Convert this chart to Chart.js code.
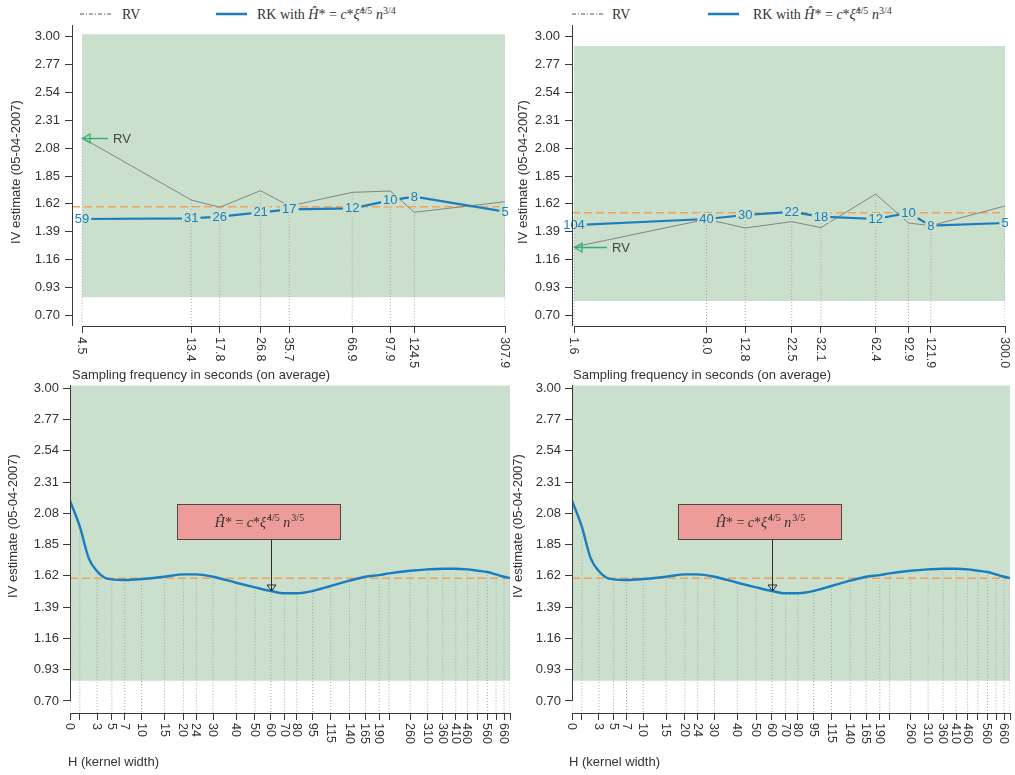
<!DOCTYPE html>
<html>
<head>
<meta charset="utf-8">
<script src="https://cdn.jsdelivr.net/npm/chart.js@4.4.1/dist/chart.umd.min.js"></script>
<style>
  html, body { margin: 0; padding: 0; background: #fff; }
  body { width: 1015px; height: 775px; position: relative; overflow: hidden; }
  canvas { position: absolute; }
  .lg { position: absolute; font-family: "Liberation Serif", "Times New Roman", serif; font-size: 14px;
        line-height: 16px; color: #333; white-space: nowrap; }
  .lg sup { font-size: 10px; vertical-align: 5px; line-height: 0; }
  .lg svg { position: absolute; }
</style>
</head>
<body>

<!-- legends -->
<svg class="lg" style="left:80px;top:9px" width="31" height="10"><line x1="0" y1="5" x2="31" y2="5" stroke="#555" stroke-width="1" stroke-dasharray="4,2,1,2"/></svg>
<div class="lg" style="left:122px;top:7px">RV</div>
<svg class="lg" style="left:216px;top:9px" width="31" height="10"><line x1="0" y1="5" x2="31" y2="5" stroke="#1a7dc0" stroke-width="2.5"/></svg>
<div class="lg" style="left:257px;top:7px">RK with <i>Ĥ</i>* = <i>c</i>*<i>ξ&#770;</i><sup>4/5</sup> <i>n</i><sup>3/4</sup></div>

<svg class="lg" style="left:572px;top:9px" width="31" height="10"><line x1="0" y1="5" x2="31" y2="5" stroke="#555" stroke-width="1" stroke-dasharray="4,2,1,2"/></svg>
<div class="lg" style="left:612px;top:7px">RV</div>
<svg class="lg" style="left:708px;top:9px" width="31" height="10"><line x1="0" y1="5" x2="31" y2="5" stroke="#1a7dc0" stroke-width="2.5"/></svg>
<div class="lg" style="left:753px;top:7px">RK with <i>Ĥ</i>* = <i>c</i>*<i>ξ&#770;</i><sup>4/5</sup> <i>n</i><sup>3/4</sup></div>

<canvas id="pA" width="515" height="385" style="left:0;top:0"></canvas>
<canvas id="pB" width="510" height="385" style="left:505px;top:0"></canvas>
<canvas id="pC" width="515" height="395" style="left:0;top:380px"></canvas>
<canvas id="pD" width="510" height="395" style="left:505px;top:380px"></canvas>

<script>
// ---------------- data ----------------
const Y_TICKS = [0.70, 0.93, 1.16, 1.39, 1.62, 1.85, 2.08, 2.31, 2.54, 2.77, 3.00];

// sampling-frequency grid, first day
const FREQ_A = [4.5, 13.4, 17.8, 26.8, 35.7, 66.9, 97.9, 124.5, 307.9];
const RV_A   = [2.166, 1.652, 1.592, 1.729, 1.602, 1.715, 1.726, 1.550, 1.638];
const RK_A   = [1.495, 1.501, 1.514, 1.550, 1.575, 1.583, 1.649, 1.679, 1.555];
const HSTAR_A = ['59', '31', '26', '21', '17', '12', '10', '8', '5'];
const RK_REF_A = 1.597;
const BAND_A = [0.849, 3.02];

// sampling-frequency grid, second series
const FREQ_B = [1.6, 8.0, 12.8, 22.5, 32.1, 62.4, 92.9, 121.9, 300.0];
const RV_B   = [1.264, 1.493, 1.421, 1.473, 1.424, 1.701, 1.462, 1.440, 1.602];
const RK_B   = [1.445, 1.495, 1.528, 1.553, 1.514, 1.495, 1.545, 1.440, 1.462];
const HSTAR_B = ['104', '40', '30', '22', '18', '12', '10', '8', '5'];
const RK_REF_B = 1.547;
const BAND_B = [0.818, 2.923];

// realised kernel against kernel width H
const H_GRID = [0, 1, 2, 3, 4, 5, 7, 10, 15, 20, 24, 30, 40, 50, 60, 70, 80, 95, 115, 140, 165, 190,
                210, 260, 310, 360, 410, 460, 510, 560, 610, 660, 700];
const RK_H   = [2.173, 1.982, 1.749, 1.655, 1.607, 1.595, 1.590, 1.597, 1.614, 1.631, 1.631, 1.614,
                1.570, 1.536, 1.509, 1.492, 1.492, 1.509, 1.546, 1.585, 1.614, 1.626,
                1.639, 1.658, 1.668, 1.673, 1.673, 1.668, 1.658, 1.649, 1.631, 1.614, 1.605];
const H_TICKS = [0, 1, 3, 5, 7, 10, 15, 20, 24, 30, 40, 50, 60, 70, 80, 95, 115, 140, 165, 190,
                 210, 260, 310, 360, 410, 460, 510, 560, 610, 660, 700];
const H_TICK_LABELS = ['0', '', '3', '5', '7', '10', '15', '20', '24', '30', '40', '50', '60', '70', '80',
                       '95', '115', '140', '165', '190', '', '260', '310', '360', '410', '460', '',
                       '560', '', '660', ''];
const RK_REF_H = 1.602;
const BAND_H = [0.849, 3.02];
const H_STAR = 60;

// ---------------- style ----------------
const SANS = '"Liberation Sans", Arial, Helvetica, sans-serif';
const SERIF = '"Liberation Serif", "Times New Roman", serif';
const GREEN = '#cadfcc';
const BLUE = '#1a7dc0';
const ORANGE = '#f0a35a';
const RVGRAY = '#858585';
const DOT = '#a8a8a8';
const AXIS = '#3a3a3a';
const TEXT = '#333333';
const ARROW = '#33b06c';
const PINK = '#ee9c9a';
const H_SHIFT = 10;   // kernel-width axis is logarithmic in (H + 10)

Chart.defaults.font.family = SANS;

const FORMULA_35 = [
  { t: 'Ĥ', it: true }, { t: '* = ' }, { t: 'c', it: true }, { t: '*' },
  { t: 'ξ\u0302', it: true }, { t: '4/5', sup: true }, { t: ' ' }, { t: 'n', it: true }, { t: '3/5', sup: true }
];

function drawMath(ctx, cx, cy, runs, size) {
  const supSize = Math.round(size * 0.7);
  const fontOf = r => `${r.it ? 'italic ' : ''}${r.sup ? supSize : size}px ${SERIF}`;
  let total = 0;
  const widths = runs.map(r => { ctx.font = fontOf(r); const w = ctx.measureText(r.t).width; total += w; return w; });
  let x = cx - total / 2;
  const base = cy + size * 0.33;
  ctx.textAlign = 'left';
  ctx.textBaseline = 'alphabetic';
  runs.forEach((r, i) => {
    ctx.font = fontOf(r);
    ctx.fillText(r.t, x + (r.sup ? 1 : 0), r.sup ? base - size * 0.4 : base);
    x += widths[i] + (r.sup ? 1 : 0);
  });
}

const align = (v) => Math.round(v - 0.5) + 0.5;

function makeDecor(p) {
  return {
    id: 'panelDecor',
    afterDatasetsDraw(chart) {
      const { ctx, scales: { x: xs, y: ys } } = chart;
      ctx.save();
      // numbered markers on the RK line (line is knocked out behind each number)
      if (p.markers) {
        const m = p.markers;
        ctx.font = `13px ${SANS}`;
        const bx0 = xs.getPixelForValue(m.band.x0), bx1 = xs.getPixelForValue(m.band.x1);
        const byT = ys.getPixelForValue(m.band.hi), byB = ys.getPixelForValue(m.band.lo);
        ctx.save();
        ctx.beginPath(); ctx.rect(bx0, byT, bx1 - bx0, byB - byT); ctx.clip();
        ctx.fillStyle = GREEN;
        m.labels.forEach((t, i) => {
          const px = xs.getPixelForValue(m.x[i]), py = ys.getPixelForValue(m.y[i]);
          const w = ctx.measureText(t).width;
          ctx.fillRect(px - w / 2 - 2, py - 6, w + 4, 12);
        });
        ctx.restore();
        ctx.fillStyle = BLUE; ctx.textAlign = 'center'; ctx.textBaseline = 'middle';
        m.labels.forEach((t, i) => ctx.fillText(t, xs.getPixelForValue(m.x[i]), ys.getPixelForValue(m.y[i]) + 0.5));
      }
      // "RV" pointer at the highest-frequency realised variance
      if (p.rvArrow) {
        const r = p.rvArrow;
        const px = xs.getPixelForValue(r.x), py = Math.round(ys.getPixelForValue(r.y)) + 0.5;
        ctx.strokeStyle = ARROW; ctx.lineWidth = 1.4;
        ctx.beginPath(); ctx.moveTo(px + r.len, py); ctx.lineTo(px + 1, py); ctx.stroke();
        ctx.lineWidth = 1.2;
        ctx.beginPath(); ctx.moveTo(px + 8, py - 4.5); ctx.lineTo(px + 0.5, py); ctx.lineTo(px + 8, py + 4.5); ctx.closePath(); ctx.stroke();
        ctx.fillStyle = '#444'; ctx.font = `13px ${SANS}`; ctx.textAlign = 'left'; ctx.textBaseline = 'middle';
        ctx.fillText('RV', px + r.len + 5, py + 0.5);
      }
      // boxed note with arrow to the chosen kernel width
      if (p.note) {
        const n = p.note;
        const ax = Math.round(xs.getPixelForValue(n.x)) + 0.5;
        const tip = ys.getPixelForValue(n.y);
        const top = Math.round(ys.getPixelForValue(n.boxHi)) + 0.5;
        const bot = Math.round(ys.getPixelForValue(n.boxLo)) + 0.5;
        const left = Math.round(ax + n.dl), right = Math.round(ax + n.dr);
        ctx.strokeStyle = '#2a2a2a'; ctx.lineWidth = 1;
        ctx.beginPath(); ctx.moveTo(ax, bot); ctx.lineTo(ax, tip - 1); ctx.stroke();
        ctx.beginPath(); ctx.moveTo(ax, tip); ctx.lineTo(ax - 4.5, tip - 6); ctx.lineTo(ax + 4.5, tip - 6); ctx.closePath(); ctx.stroke();
        ctx.fillStyle = PINK; ctx.fillRect(left + 0.5, top, right - left, bot - top);
        ctx.strokeStyle = '#4a4a4a'; ctx.strokeRect(left + 0.5, top, right - left, bot - top);
        ctx.fillStyle = TEXT;
        drawMath(ctx, (left + right) / 2, (top + bot) / 2, n.runs, 14);
      }
      ctx.restore();
    },
    afterDraw(chart) {
      const { ctx, chartArea: a, scales: { x: xs, y: ys } } = chart;
      ctx.save();
      ctx.strokeStyle = AXIS; ctx.lineWidth = 1;
      // y axis line
      const yEnd = p.yAxisToLowTick ? ys.getPixelForValue(Y_TICKS[0]) : a.bottom;
      ctx.beginPath(); ctx.moveTo(align(a.left), a.top); ctx.lineTo(align(a.left), yEnd); ctx.stroke();
      // x axis line between the outer ticks
      const x0 = xs.getPixelForValue(p.xTicks[0]), x1 = xs.getPixelForValue(p.xTicks[p.xTicks.length - 1]);
      ctx.beginPath(); ctx.moveTo(align(x0) - 0.5, align(a.bottom)); ctx.lineTo(align(x1) + 0.5, align(a.bottom)); ctx.stroke();
      // rotated x tick labels, reading downwards
      ctx.fillStyle = TEXT; ctx.font = `12.5px ${SANS}`; ctx.textAlign = 'left'; ctx.textBaseline = 'middle';
      p.xTicks.forEach((v, i) => {
        const t = p.xLabels[i];
        if (!t) return;
        ctx.save();
        ctx.translate(xs.getPixelForValue(v), a.bottom + p.labelGap);
        ctx.rotate(Math.PI / 2);
        ctx.fillText(t, 0, 0.5);
        ctx.restore();
      });
      // axis titles
      ctx.font = `13px ${SANS}`;
      ctx.textBaseline = 'middle';
      ctx.fillText(p.xTitle.text, a.left + p.xTitle.dx, a.bottom + p.xTitle.dy);
      ctx.save();
      ctx.translate(a.left + p.yTitle.dx, a.top + p.yTitle.dy);
      ctx.rotate(-Math.PI / 2);
      ctx.textAlign = 'center';
      ctx.fillText(p.yTitle.text, 0, 0);
      ctx.restore();
      ctx.restore();
    }
  };
}

function buildChart(id, p) {
  return new Chart(document.getElementById(id), {
    type: 'line',
    data: { datasets: p.datasets },
    options: {
      responsive: false,
      animation: false,
      events: [],
      layout: { padding: p.padding },
      plugins: { legend: { display: false }, tooltip: { enabled: false } },
      scales: {
        x: {
          type: 'logarithmic', min: p.xMin, max: p.xMax,
          afterBuildTicks: s => { s.ticks = p.xTicks.map(v => ({ value: v })); },
          afterFit: s => { s.height = p.xHeight; s.paddingLeft = 0; s.paddingRight = 0; },
          ticks: { display: false, autoSkip: false },
          grid: { display: true, drawOnChartArea: false, drawTicks: true, tickLength: 7, color: AXIS, tickColor: AXIS, lineWidth: 1 },
          border: { display: false }
        },
        y: {
          type: 'linear', min: p.yMin, max: p.yMax,
          afterBuildTicks: s => { s.ticks = Y_TICKS.map(v => ({ value: v })); },
          afterFit: s => { s.width = p.yWidth; s.paddingTop = 0; s.paddingBottom = 0; },
          ticks: { autoSkip: false, padding: p.yPad, color: TEXT, font: { family: SANS, size: 13 },
                   callback: v => Number(v).toFixed(2) },
          grid: { display: true, drawOnChartArea: false, drawTicks: true, tickLength: 7, color: AXIS, tickColor: AXIS, lineWidth: 1 },
          border: { display: false }
        }
      }
    },
    plugins: [makeDecor(p)]
  });
}

function dropPoints(xv, yv, floor) {
  const out = [];
  xv.forEach((x, i) => { out.push({ x, y: yv[i] }, { x, y: floor }, { x, y: null }); });
  return out;
}

function frequencyPanel(id, o) {
  const last = o.freq.length - 1;
  const top = o.freq.map((_, i) => Math.max(o.rv[i], o.rk[i]));
  const datasets = [
    { data: o.freq.map((x, i) => ({ x, y: o.rk[i] })), borderColor: BLUE, borderWidth: 2.2, pointRadius: 0, tension: 0, order: 1 },
    { data: o.freq.map((x, i) => ({ x, y: o.rv[i] })), borderColor: RVGRAY, borderWidth: 1, pointRadius: 0, tension: 0, order: 2 },
    { data: [{ x: o.xMin, y: o.ref }, { x: o.xMax, y: o.ref }], borderColor: ORANGE, borderWidth: 1.5, borderDash: [8, 4], pointRadius: 0, order: 3 },
    { data: dropPoints(o.freq, top, o.yMin), borderColor: DOT, borderWidth: 1, borderDash: [1, 2], pointRadius: 0, spanGaps: false, order: 4 },
    { data: [{ x: o.freq[0], y: o.band[1] }, { x: o.freq[last], y: o.band[1] }], borderColor: 'rgba(0,0,0,0)', borderWidth: 0,
      pointRadius: 0, fill: { value: o.band[0] }, backgroundColor: GREEN, order: 5 }
  ];
  return buildChart(id, {
    datasets, xMin: o.xMin, xMax: o.xMax, yMin: o.yMin, yMax: o.yMax,
    xTicks: o.freq, xLabels: o.freq.map(v => v.toFixed(1)),
    padding: o.padding, xHeight: o.xHeight, yWidth: o.yWidth, yPad: 5, labelGap: 11,
    yAxisToLowTick: false,
    markers: { x: o.freq, y: o.rk, labels: o.labels, band: { x0: o.freq[0], x1: o.freq[last], lo: o.band[0], hi: o.band[1] } },
    rvArrow: { x: o.freq[0], y: o.rv[0], len: o.arrowLen },
    xTitle: { text: 'Sampling frequency in seconds (on average)', dx: o.xtDx, dy: 49 },
    yTitle: { text: 'IV estimate (05-04-2007)', dx: o.ytDx, dy: 147 }
  });
}

function kernelPanel(id, o) {
  const xMin = H_GRID[0] + H_SHIFT, xMax = H_GRID[H_GRID.length - 1] + H_SHIFT;
  const atTicks = H_TICKS.map(h => RK_H[H_GRID.indexOf(h)]);
  const datasets = [
    { data: H_GRID.map((h, i) => ({ x: h + H_SHIFT, y: RK_H[i] })), borderColor: BLUE, borderWidth: 2.4, pointRadius: 0,
      cubicInterpolationMode: 'monotone', order: 1 },
    { data: [{ x: xMin, y: RK_REF_H }, { x: xMax, y: RK_REF_H }], borderColor: ORANGE, borderWidth: 1.5, borderDash: [8, 4], pointRadius: 0, order: 3 },
    { data: dropPoints(H_TICKS.map(h => h + H_SHIFT), atTicks, o.yMin), borderColor: DOT, borderWidth: 1, borderDash: [1, 2], pointRadius: 0, spanGaps: false, order: 4 },
    { data: [{ x: xMin, y: BAND_H[1] }, { x: xMax, y: BAND_H[1] }], borderColor: 'rgba(0,0,0,0)', borderWidth: 0,
      pointRadius: 0, fill: { value: BAND_H[0] }, backgroundColor: GREEN, order: 5 }
  ];
  return buildChart(id, {
    datasets, xMin, xMax, yMin: o.yMin, yMax: o.yMax,
    xTicks: H_TICKS.map(h => h + H_SHIFT), xLabels: H_TICK_LABELS,
    padding: o.padding, xHeight: o.xHeight, yWidth: o.yWidth, yPad: 4, labelGap: 10,
    yAxisToLowTick: true,
    note: { x: H_STAR + H_SHIFT, y: RK_H[H_GRID.indexOf(H_STAR)], boxLo: 1.891, boxHi: 2.149, dl: -95, dr: 68, runs: FORMULA_35 },
    xTitle: { text: 'H (kernel width)', dx: o.xtDx, dy: 49.5 },
    yTitle: { text: 'IV estimate (05-04-2007)', dx: o.ytDx, dy: 141 }
  });
}

frequencyPanel('pA', {
  freq: FREQ_A, rv: RV_A, rk: RK_A, labels: HSTAR_A, ref: RK_REF_A, band: BAND_A,
  xMin: 4.072, xMax: 307.9, yMin: 0.6117, yMax: 3.0966,
  padding: { left: 0, top: 25, right: 10, bottom: 0 }, xHeight: 59, yWidth: 72,
  arrowLen: 26, xtDx: 0, ytDx: -56
});
frequencyPanel('pB', {
  freq: FREQ_B, rv: RV_B, rk: RK_B, labels: HSTAR_B, ref: RK_REF_B, band: BAND_B,
  xMin: 1.5616, xMax: 300.0, yMin: 0.6117, yMax: 3.0966,
  padding: { left: 0, top: 25, right: 10, bottom: 0 }, xHeight: 59, yWidth: 67,
  arrowLen: 33, xtDx: 1, ytDx: -49
});
kernelPanel('pC', {
  yMin: 0.6117, yMax: 3.0243,
  padding: { left: 0, top: 5, right: 5, bottom: 0 }, xHeight: 62, yWidth: 70,
  xtDx: -2, ytDx: -57
});
kernelPanel('pD', {
  yMin: 0.6117, yMax: 3.0243,
  padding: { left: 0, top: 5, right: 5, bottom: 0 }, xHeight: 62, yWidth: 67,
  xtDx: -3, ytDx: -54
});
</script>
</body>
</html>
